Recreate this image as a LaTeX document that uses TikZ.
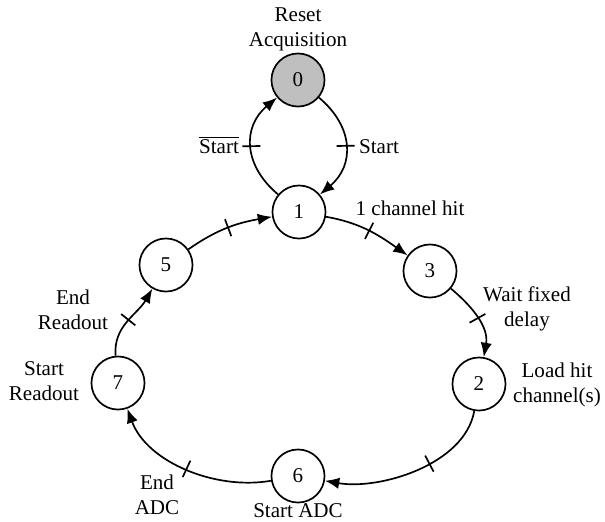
\documentclass[tikz,border=0pt]{standalone}
\usepackage{fontspec}
\setmainfont{Liberation Serif}
\usetikzlibrary{arrows.meta,decorations.markings}

\begin{document}
\begin{tikzpicture}[x=0.475pt, y=0.475pt, >={Latex[length=6.8pt,width=5.4pt]}, line width=0.8pt,
    state/.style={circle, draw, minimum size=25.2pt, inner sep=0pt},
    txt/.style={align=center},
    tickat/.style={postaction={decorate, decoration={markings,
        mark=at position #1 with {\draw[-] (0pt,-4.3pt) -- (0pt,4.3pt);}}}}]
  \useasboundingbox (0,0) rectangle (605,-522);

  % States
  \node[state, fill=black!25] (S0) at (298,-80) {0};
  \foreach \i/\x/\y in {1/299/212, 3/430/271, 2/479/384, 6/298/476, 7/118/383, 5/166/265}
    \node[state] (S\i) at (\x,-\y) {\i};

  % Labels
  \node[txt] (L0) at (298,-29.5) {Reset\\Acquisition};
  \node[txt] (Lnot) at (219,-145) {$\overline{\mbox{Start}}$};
  \node[txt] (Lgo) at (379,-147) {Start};
  \node[txt] (L13) at (410,-208) {1 channel hit};
  \node[txt] (L32) at (527,-309) {Wait fixed\\delay};
  \node[txt] (L2) at (557,-385) {Load hit\\channel(s)};
  \node[txt] (L6) at (298,-511) {Start ADC};
  \node[txt] (L67) at (157,-495) {End\\ADC};
  \node[txt] (L7) at (44,-381) {Start\\Readout};
  \node[txt] (L75) at (73,-310) {End\\Readout};

  % Transitions
  \draw[->, tickat=0.5] (S1) to[out=140, in=220, looseness=1.2] (S0);
  \draw[->, tickat=0.5] (S0) to[out=-40, in=40, looseness=1.2] (S1);
  \foreach \a/\b/\o/\n/\l/\p in {1/3/-10/145/1/0.5, 3/2/-40/80/1/0.5, 2/6/-100/-10/0.85/0.4,
      6/7/190/-70/0.9/0.5, 7/5/95/240/1/0.5, 5/1/35/190/1/0.5}
    \draw[->, tickat=\p] (S\a) to[out=\o, in=\n, looseness=\l] (S\b);

\end{tikzpicture}
\end{document}
